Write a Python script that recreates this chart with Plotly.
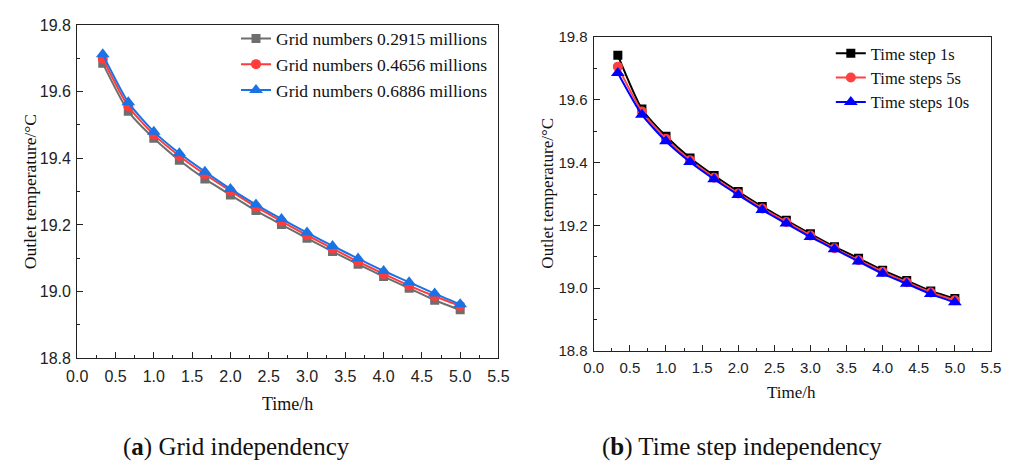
import plotly.graph_objects as go

# Time axis: one sample every 20 minutes over five hours
time_h = [1/3, 2/3, 1.0, 4/3, 5/3, 2.0, 7/3, 8/3, 3.0, 10/3, 11/3, 4.0, 13/3, 14/3, 5.0]

# (a) grid independency: outlet temperature (°C)
grid_names = ["Grid numbers 0.2915 millions", "Grid numbers 0.4656 millions", "Grid numbers 0.6886 millions"]
grid_0_2915 = [19.685, 19.541, 19.460, 19.394, 19.338, 19.290, 19.243, 19.201, 19.160, 19.120, 19.082, 19.045, 19.010, 18.974, 18.945]
grid_0_4656 = [19.699, 19.556, 19.471, 19.407, 19.352, 19.302, 19.254, 19.211, 19.169, 19.129, 19.090, 19.053, 19.018, 18.986, 18.957]
grid_0_6886 = [19.712, 19.568, 19.480, 19.415, 19.360, 19.308, 19.261, 19.218, 19.177, 19.137, 19.099, 19.062, 19.028, 18.994, 18.962]

# (b) time step independency: outlet temperature (°C)
step_names = ["Time step 1s", "Time steps 5s", "Time steps 10s"]
step_1s = [19.742, 19.571, 19.484, 19.415, 19.359, 19.308, 19.260, 19.216, 19.173, 19.132, 19.095, 19.057, 19.024, 18.991, 18.967]
step_5s = [19.706, 19.563, 19.476, 19.408, 19.352, 19.302, 19.254, 19.211, 19.168, 19.127, 19.089, 19.052, 19.019, 18.986, 18.961]
step_10s = [19.686, 19.553, 19.468, 19.402, 19.347, 19.297, 19.249, 19.206, 19.163, 19.124, 19.085, 19.046, 19.014, 18.981, 18.955]

x_ticks = [0.0, 0.5, 1.0, 1.5, 2.0, 2.5, 3.0, 3.5, 4.0, 4.5, 5.0, 5.5]
y_ticks = [18.8, 19.0, 19.2, 19.4, 19.6, 19.8]

W, H = 1014, 463
SERIF = "Liberation Serif, Times New Roman, serif"
SANS = "Liberation Sans, Arial, sans-serif"

fig = go.Figure()

left_styles = [
    ("#6e6e6e", "square", 9),
    ("#ff3b3b", "circle", 10),
    ("#1a72e6", "triangle-up", 12),
]
for name, vals, (col, sym, sz) in zip(grid_names, [grid_0_2915, grid_0_4656, grid_0_6886], left_styles):
    fig.add_trace(go.Scatter(
        x=time_h, y=vals, name=name, mode="lines+markers",
        line=dict(color=col, width=2, shape="spline", smoothing=0.6),
        marker=dict(color=col, symbol=sym, size=sz),
        xaxis="x", yaxis="y", legend="legend",
    ))

right_styles = [
    ("#000000", "square", 9),
    ("#ff4040", "circle", 10),
    ("#0000ff", "triangle-up", 12),
]
for name, vals, (col, sym, sz) in zip(step_names, [step_1s, step_5s, step_10s], right_styles):
    fig.add_trace(go.Scatter(
        x=time_h, y=vals, name=name, mode="lines+markers",
        line=dict(color=col, width=2, shape="spline", smoothing=0.6),
        marker=dict(color=col, symbol=sym, size=sz),
        xaxis="x2", yaxis="y2", legend="legend2",
    ))


def px_x(v):
    return v / W


def px_y(v):
    return 1 - v / H


def axis_common(tick_size, **kw):
    d = dict(
        showline=True, linecolor="#222222", linewidth=1.3, mirror=True,
        ticks="inside", ticklen=6, tickwidth=1.2, tickcolor="#222222",
        showgrid=False, zeroline=False,
        tickfont=dict(family=SANS, size=tick_size, color="#222222"),
    )
    d.update(kw)
    return d


fig.update_layout(
    width=W, height=H,
    margin=dict(l=0, r=0, t=0, b=0),
    paper_bgcolor="white", plot_bgcolor="white",
    xaxis=axis_common(16, domain=[px_x(67.7), px_x(498.3)], range=[0, 5.5],
                      tickvals=x_ticks, ticktext=[f"{v:.1f}" for v in x_ticks],
                      minor=dict(ticks="inside", ticklen=3, dtick=0.25, tickcolor="#222222"),
                      ticklabelstandoff=3, anchor="y"),
    yaxis=axis_common(16, domain=[px_y(363.3), px_y(16.7)], range=[18.8, 19.8],
                      tickvals=y_ticks, ticktext=[f"{v:.1f}" for v in y_ticks],
                      minor=dict(ticks="inside", ticklen=3, dtick=0.1, tickcolor="#222222"),
                      ticklabelstandoff=2, anchor="x"),
    xaxis2=axis_common(15, domain=[px_x(595.7), px_x(1001.7)], range=[0, 5.5],
                       tickvals=x_ticks, ticktext=[f"{v:.1f}" for v in x_ticks],
                       minor=dict(ticks="inside", ticklen=3, dtick=0.25, tickcolor="#222222"),
                       ticklabelstandoff=3, anchor="y2"),
    yaxis2=axis_common(15, domain=[px_y(355.7), px_y(29.3)], range=[18.8, 19.8],
                       tickvals=y_ticks, ticktext=[f"{v:.1f}" for v in y_ticks],
                       minor=dict(ticks="inside", ticklen=3, dtick=0.1, tickcolor="#222222"),
                       ticklabelstandoff=2, anchor="x2"),
    legend=dict(
        x=px_x(230), y=px_y(12), xanchor="left", yanchor="top",
        bgcolor="rgba(0,0,0,0)", borderwidth=0,
        font=dict(family=SERIF, size=17.5, color="#111111"),
        tracegroupgap=0,
    ),
    legend2=dict(
        x=px_x(838), y=px_y(28), xanchor="left", yanchor="top",
        bgcolor="rgba(0,0,0,0)", borderwidth=0,
        font=dict(family=SERIF, size=16.5, color="#111111"),
        tracegroupgap=0,
    ),
    showlegend=True,
)

annotations = [
    # axis titles
    dict(x=px_x(283), y=px_y(411), text="Time/h", font=dict(family=SERIF, size=18, color="#111111")),
    dict(x=px_x(798), y=px_y(399), text="Time/h", font=dict(family=SERIF, size=17, color="#111111")),
    dict(x=px_x(19), y=px_y(190), text="Outlet temperature/\u00b0C", textangle=-90,
         font=dict(family=SERIF, size=17.5, color="#111111")),
    dict(x=px_x(548), y=px_y(192), text="Outlet temperature/\u00b0C", textangle=-90,
         font=dict(family=SERIF, size=17, color="#111111")),
    # panel captions
    dict(x=px_x(230), y=px_y(456), text="(<b>a</b>) Grid independency",
         font=dict(family=SERIF, size=25, color="#111111")),
    dict(x=px_x(747), y=px_y(456), text="(<b>b</b>) Time step independency",
         font=dict(family=SERIF, size=25, color="#111111")),
]
for a in annotations:
    a.update(xref="paper", yref="paper", showarrow=False, xanchor="center", yanchor="middle")
fig.update_layout(annotations=annotations)

fig.write_html("out.html")
